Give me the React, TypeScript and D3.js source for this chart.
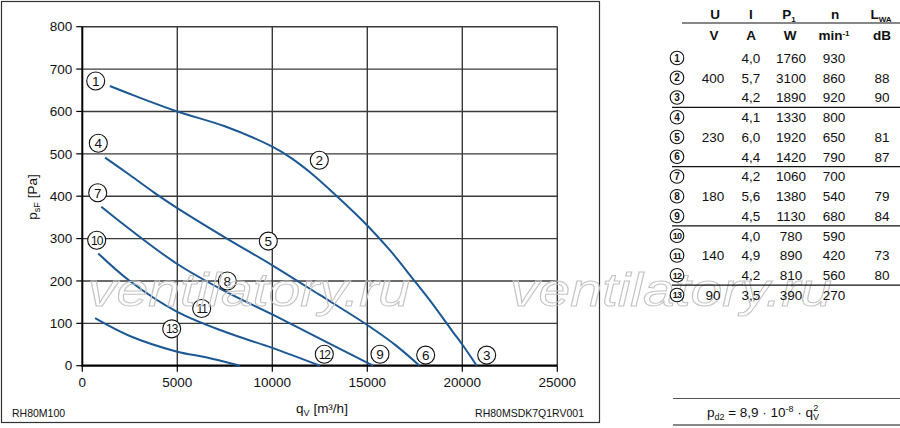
// @ts-nocheck
import * as d3 from 'd3';
import React, { useEffect, useRef } from 'react';

// axis ticks
const qTicks = [0, 5000, 10000, 15000, 20000, 25000];
const pTicks = [0, 100, 200, 300, 400, 500, 600, 700, 800];

// fan curves [qV m³/h, psF Pa], one per supply voltage
const curve400 = [[1450, 660], [2700, 638], [5000, 600], [7500, 565], [10000, 517], [11000, 490], [12000, 456], [13400, 400], [15000, 331], [16200, 272], [17400, 205], [18500, 142], [19500, 80], [20000, 50], [20760, 0]];
const curve230 = [[1200, 491], [2500, 450], [3800, 408], [5000, 372], [7500, 303], [10000, 237], [12500, 167], [15000, 96], [16500, 48], [17750, 0]];
const curve180 = [[1000, 375], [2500, 322], [5000, 240], [7500, 176], [10000, 121], [12500, 64], [15300, 0]];
const curve140 = [[840, 265], [2500, 200], [5000, 127], [7500, 80], [10000, 42], [12500, 0]];
const curve90 = [[670, 112], [2500, 70], [5000, 33], [6500, 20], [8300, 0]];
const curves = [curve400, curve230, curve180, curve140, curve90];

// operating point markers (number, q, p)
const markerIds = [1, 2, 3, 4, 5, 6, 7, 8, 9, 10, 11, 12, 13];
const markerQ = [705, 12474, 21284, 842, 9790, 18073, 811, 7632, 15668, 758, 6284, 12737, 4705];
const markerP = [672, 485, 25, 525, 294, 25, 408, 200, 27, 296, 135, 27, 87];

// table
const tableU = ['', '400', '', '', '230', '', '', '180', '', '', '140', '', '90'];
const tableI = ['4,0', '5,7', '4,2', '4,1', '6,0', '4,4', '4,2', '5,6', '4,5', '4,0', '4,9', '4,2', '3,5'];
const tableP = ['1760', '3100', '1890', '1330', '1920', '1420', '1060', '1380', '1130', '780', '890', '810', '390'];
const tableN = ['930', '860', '920', '800', '650', '790', '700', '540', '680', '590', '420', '560', '270'];
const tableL = ['', '88', '90', '', '81', '87', '', '79', '84', '', '73', '80', ''];

const FONT = '"Liberation Sans", Arial, Helvetica, sans-serif';
const BLUE = '#1c5894';

export default function App() {
  const svgRef = useRef(null);

  useEffect(() => {
    document.body.style.margin = '0';
    const svg = d3.select(svgRef.current);
    svg.selectAll('*').remove();

    const x = d3.scaleLinear().domain([0, 25000]).range([82.3, 557.3]);
    const y = d3.scaleLinear().domain([0, 800]).range([365.7, 26.7]);

    svg.append('rect').attr('width', 900).attr('height', 428).attr('fill', '#fff');

    // outer frame
    svg.append('rect')
      .attr('x', 1.5).attr('y', 1.5).attr('width', 598).attr('height', 421)
      .attr('fill', 'none').attr('stroke', '#333').attr('stroke-width', 1.2);

    const g = svg.append('g');

    // grid
    g.selectAll('.vg').data(qTicks.slice(1)).enter().append('line')
      .attr('x1', d => x(d)).attr('x2', d => x(d))
      .attr('y1', y(0)).attr('y2', y(800))
      .attr('stroke', '#3a3a3a').attr('stroke-width', 1.4);
    g.selectAll('.hg').data(pTicks.slice(1)).enter().append('line')
      .attr('x1', x(0)).attr('x2', x(25000))
      .attr('y1', d => y(d)).attr('y2', d => y(d))
      .attr('stroke', '#3a3a3a').attr('stroke-width', 1.4);

    // watermark
    [88, 510].forEach(wx => {
      svg.append('text')
        .attr('x', wx).attr('y', 306)
        .attr('textLength', 322).attr('lengthAdjust', 'spacingAndGlyphs')
        .style('font-family', FONT).style('font-style', 'italic')
        .style('font-size', '47px')
        .attr('fill', 'none').attr('stroke', '#c4c4c4').attr('stroke-width', 1)
        .text('ventilatory.ru');
    });

    // axes
    g.append('line').attr('x1', x(0)).attr('x2', x(0)).attr('y1', y(0) + 1).attr('y2', y(800))
      .attr('stroke', '#000').attr('stroke-width', 2);
    g.append('line').attr('x1', x(0) - 1).attr('x2', x(25000)).attr('y1', y(0)).attr('y2', y(0))
      .attr('stroke', '#000').attr('stroke-width', 2.2);

    g.selectAll('.yt').data(pTicks).enter().append('line')
      .attr('x1', x(0) - 6).attr('x2', x(0)).attr('y1', d => y(d)).attr('y2', d => y(d))
      .attr('stroke', '#000').attr('stroke-width', 1.2);
    g.selectAll('.xt').data(qTicks).enter().append('line')
      .attr('x1', d => x(d)).attr('x2', d => x(d)).attr('y1', y(0)).attr('y2', y(0) + 6)
      .attr('stroke', '#000').attr('stroke-width', 1.2);

    g.selectAll('.yl').data(pTicks).enter().append('text')
      .attr('x', x(0) - 10).attr('y', d => y(d)).attr('dy', '0.35em')
      .attr('text-anchor', 'end')
      .style('font-family', FONT).style('font-size', '13.5px').attr('fill', '#111')
      .text(d => d);
    g.selectAll('.xl').data(qTicks).enter().append('text')
      .attr('x', d => x(d)).attr('y', y(0) + 21)
      .attr('text-anchor', 'middle')
      .style('font-family', FONT).style('font-size', '13.5px').attr('fill', '#111')
      .text(d => d);

    // axis titles
    const yt = svg.append('text')
      .attr('transform', 'translate(37,197) rotate(-90)')
      .attr('text-anchor', 'middle')
      .style('font-family', FONT).style('font-size', '13.5px').attr('fill', '#111');
    yt.append('tspan').text('p');
    yt.append('tspan').attr('dy', 3).style('font-size', '9px').text('sF');
    yt.append('tspan').attr('dy', -3).text(' [Pa]');

    const xt = svg.append('text')
      .attr('x', 322).attr('y', 413)
      .attr('text-anchor', 'middle')
      .style('font-family', FONT).style('font-size', '13.5px').attr('fill', '#111');
    xt.append('tspan').text('q');
    xt.append('tspan').attr('dy', 3).style('font-size', '9px').text('V');
    xt.append('tspan').attr('dy', -3).text(' [m³/h]');

    svg.append('text').attr('x', 12).attr('y', 417)
      .style('font-family', FONT).style('font-size', '10.5px').attr('fill', '#111')
      .text('RH80M100');
    svg.append('text').attr('x', 584).attr('y', 417).attr('text-anchor', 'end')
      .style('font-family', FONT).style('font-size', '10.5px').attr('fill', '#111')
      .text('RH80MSDK7Q1RV001');

    // curves
    const line = d3.line().x(d => x(d[0])).y(d => y(d[1])).curve(d3.curveCatmullRom.alpha(0.5));
    g.selectAll('.curve').data(curves).enter().append('path')
      .attr('d', line)
      .attr('fill', 'none').attr('stroke', BLUE).attr('stroke-width', 2);

    // markers
    const mk = g.selectAll('.mk').data(markerIds).enter().append('g')
      .attr('transform', (d, i) => `translate(${x(markerQ[i])},${y(markerP[i])})`);
    mk.append('circle').attr('r', 9).attr('fill', '#fff').attr('stroke', '#111').attr('stroke-width', 1.1);
    mk.append('text').attr('text-anchor', 'middle').attr('dy', '0.36em')
      .style('font-family', FONT).style('font-size', d => (d >= 10 ? '12px' : '13.5px'))
      .attr('letter-spacing', d => (d >= 10 ? '-1px' : '0'))
      .attr('fill', '#111').text(d => d);

    // table
    const cols = [713, 751, 791, 834, 882];
    const tf = (sel, size, weight) => sel.style('font-family', FONT).style('font-size', size)
      .style('font-weight', weight).attr('fill', '#111').attr('text-anchor', 'middle');

    const h1 = svg.append('g');
    tf(h1.append('text').attr('x', 715).attr('y', 19), '13.5px', 'bold').text('U');
    tf(h1.append('text').attr('x', 751).attr('y', 19), '13.5px', 'bold').text('I');
    const p1 = tf(h1.append('text').attr('x', 789).attr('y', 19), '13.5px', 'bold');
    p1.append('tspan').text('P');
    p1.append('tspan').attr('dy', 3).style('font-size', '8px').text('1');
    tf(h1.append('text').attr('x', 835).attr('y', 19), '13.5px', 'bold').text('n');
    const lw = tf(h1.append('text').attr('x', 881).attr('y', 19), '13.5px', 'bold');
    lw.append('tspan').text('L');
    lw.append('tspan').attr('dy', 3).style('font-size', '8px').text('WA');

    svg.append('line').attr('x1', 682).attr('x2', 900).attr('y1', 23).attr('y2', 23)
      .attr('stroke', '#111').attr('stroke-width', 1.2);

    tf(h1.append('text').attr('x', 714).attr('y', 40), '13.5px', 'bold').text('V');
    tf(h1.append('text').attr('x', 751).attr('y', 40), '13.5px', 'bold').text('A');
    tf(h1.append('text').attr('x', 790).attr('y', 40), '13.5px', 'bold').text('W');
    const mn = tf(h1.append('text').attr('x', 834).attr('y', 40), '13.5px', 'bold');
    mn.append('tspan').text('min');
    mn.append('tspan').attr('dy', -4).style('font-size', '8px').text('-1');
    tf(h1.append('text').attr('x', 882).attr('y', 40), '13.5px', 'bold').text('dB');

    const rowY = i => 58 + i * 19.75;
    const rows = svg.selectAll('.row').data(markerIds).enter().append('g')
      .attr('transform', (d, i) => `translate(0,${rowY(i)})`);
    rows.append('circle').attr('cx', 677).attr('r', 6.8)
      .attr('fill', '#fff').attr('stroke', '#111').attr('stroke-width', 1.1);
    rows.append('text').attr('x', 677).attr('dy', '0.36em').attr('text-anchor', 'middle')
      .style('font-family', FONT).style('font-size', d => (d >= 10 ? '9px' : '10px'))
      .style('font-weight', 'bold').attr('letter-spacing', d => (d >= 10 ? '-0.8px' : '0'))
      .attr('fill', '#111').text(d => d);
    [tableU, tableI, tableP, tableN, tableL].forEach((col, c) => {
      rows.append('text').attr('x', cols[c]).attr('dy', '0.36em').attr('text-anchor', 'middle')
        .style('font-family', FONT).style('font-size', '13.5px').attr('fill', '#111')
        .text((d, i) => col[i]);
    });

    [2.5, 5.5, 8.5, 11.5].forEach(r => {
      svg.append('line').attr('x1', 672).attr('x2', 900).attr('y1', rowY(r)).attr('y2', rowY(r))
        .attr('stroke', '#111').attr('stroke-width', 1.2);
    });

    // formula
    svg.append('line').attr('x1', 673).attr('x2', 900).attr('y1', 398.5).attr('y2', 398.5)
      .attr('stroke', '#555').attr('stroke-width', 1.2);
    svg.append('line').attr('x1', 673).attr('x2', 900).attr('y1', 425).attr('y2', 425)
      .attr('stroke', '#111').attr('stroke-width', 1.2);
    const fm = svg.append('text').attr('x', 763).attr('y', 417).attr('text-anchor', 'middle')
      .style('font-family', FONT).style('font-size', '13.5px').attr('fill', '#111');
    fm.append('tspan').text('p');
    fm.append('tspan').attr('dy', 3).style('font-size', '9px').text('d2');
    fm.append('tspan').attr('dy', -3).text(' = 8,9 · 10');
    fm.append('tspan').attr('dy', -5).style('font-size', '9px').text('-8');
    fm.append('tspan').attr('dy', 5).text(' · q');
    fm.append('tspan').attr('dy', 3).style('font-size', '9px').text('V');
    fm.append('tspan').attr('dy', -9).attr('dx', -6).style('font-size', '9px').text('2');
  }, []);

  return (
    <svg
      ref={svgRef}
      width={900}
      height={428}
      style={{ display: 'block', position: 'absolute', left: 0, top: 0 }}
    />
  );
}
